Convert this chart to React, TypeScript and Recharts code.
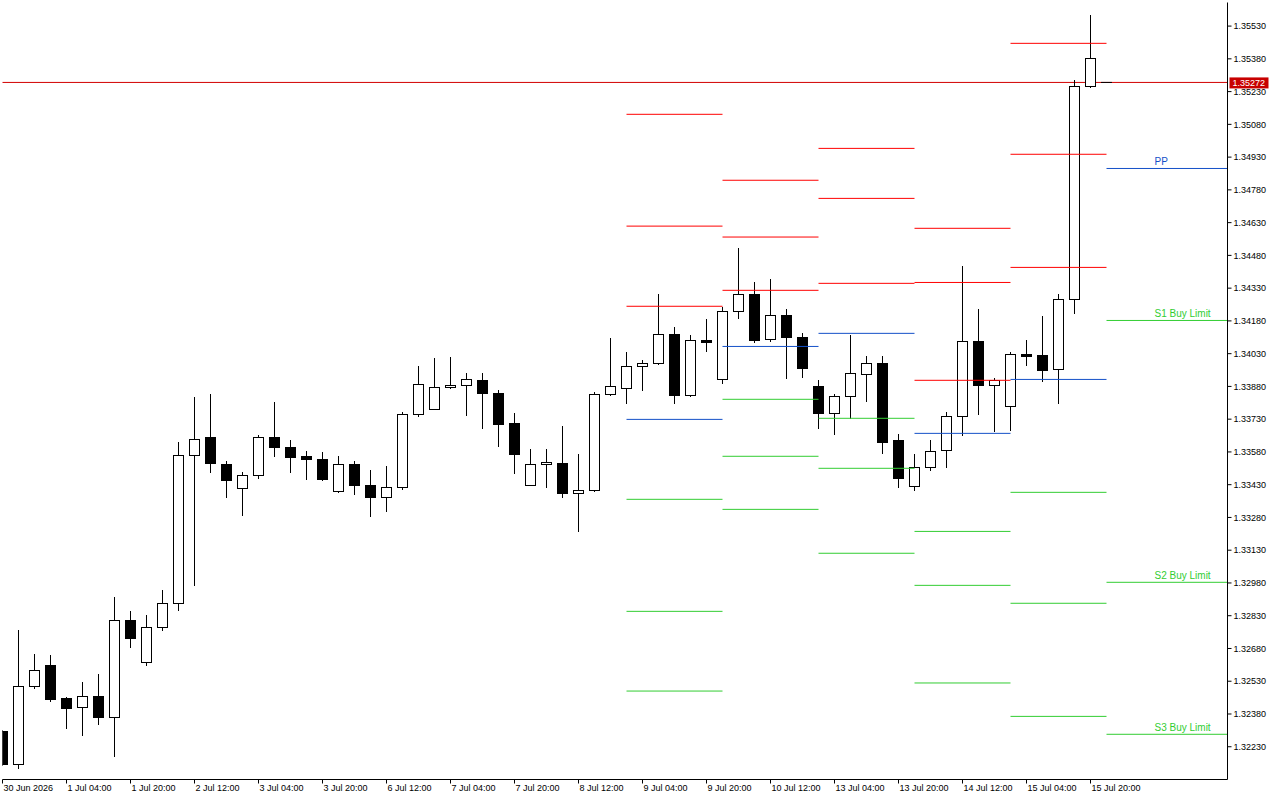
import { ComposedChart, Bar, XAxis, YAxis, ReferenceLine } from "recharts";

// H4 bars, 30 Jun .. 15 Jul 2026
const barOpen = [
  1.32302, 1.32149, 1.32505, 1.32604, 1.32453, 1.32409, 1.32462, 1.32363, 1.3281, 1.32615,
  1.32777, 1.32887, 1.33564, 1.33644, 1.33524, 1.33413, 1.33473, 1.33648, 1.33598, 1.33557,
  1.33547, 1.33399, 1.33523, 1.33427, 1.33372, 1.33418, 1.33752, 1.33775, 1.33876, 1.33885,
  1.33908, 1.33848, 1.33711, 1.33427, 1.33523, 1.33528, 1.3339, 1.33404, 1.33843, 1.33871,
  1.33973, 1.33984, 1.34118, 1.33839, 1.34091, 1.33912, 1.34224, 1.34301, 1.34095, 1.34205,
  1.34105, 1.3388, 1.33757, 1.33834, 1.33935, 1.33986, 1.33634, 1.33422, 1.33509, 1.33587,
  1.33743, 1.34086, 1.33883, 1.33789, 1.34027, 1.34022, 1.33958, 1.34279, 1.35254,
];
const barHigh = [
  1.32306, 1.32764, 1.32654, 1.3265, 1.32456, 1.32526, 1.32563, 1.32915, 1.32851, 1.32833,
  1.32947, 1.33625, 1.33827, 1.33845, 1.33534, 1.33488, 1.33657, 1.33808, 1.33634, 1.33584,
  1.33579, 1.33561, 1.33538, 1.33497, 1.33515, 1.33762, 1.33969, 1.3401, 1.34014, 1.33937,
  1.33937, 1.33863, 1.33757, 1.33593, 1.33589, 1.33698, 1.3357, 1.33854, 1.34101, 1.34037,
  1.33999, 1.34303, 1.34152, 1.34114, 1.34188, 1.34242, 1.34513, 1.34358, 1.3437, 1.3423,
  1.34124, 1.33909, 1.33845, 1.34115, 1.34019, 1.34019, 1.33662, 1.3357, 1.33634, 1.33762,
  1.34431, 1.3423, 1.33918, 1.34036, 1.34088, 1.34198, 1.343, 1.3528, 1.35577,
];
const barLow = [
  1.32146, 1.32129, 1.32496, 1.32435, 1.32312, 1.3228, 1.32331, 1.32184, 1.32683, 1.32601,
  1.32764, 1.32856, 1.32967, 1.33485, 1.3337, 1.33288, 1.33457, 1.33561, 1.33485, 1.33452,
  1.33448, 1.33396, 1.33384, 1.33283, 1.33306, 1.33407, 1.33741, 1.33772, 1.33872, 1.33746,
  1.33686, 1.33604, 1.3348, 1.33424, 1.33416, 1.3337, 1.33214, 1.33398, 1.3384, 1.338,
  1.3386, 1.33979, 1.338, 1.33836, 1.34039, 1.33892, 1.3419, 1.3408, 1.34084, 1.33915,
  1.3392, 1.33686, 1.33659, 1.33735, 1.3381, 1.33572, 1.33416, 1.33402, 1.33497, 1.33507,
  1.33656, 1.3375, 1.33672, 1.33676, 1.33975, 1.33901, 1.338, 1.34213, 1.35251,
];
const barClose = [
  1.32149, 1.32508, 1.32581, 1.32448, 1.32407, 1.32462, 1.32363, 1.3281, 1.32724, 1.32777,
  1.32887, 1.33564, 1.33638, 1.33526, 1.33448, 1.33473, 1.33647, 1.33599, 1.33553, 1.33544,
  1.33452, 1.33523, 1.33425, 1.3337, 1.33418, 1.33752, 1.33889, 1.33876, 1.33885, 1.33912,
  1.33848, 1.33704, 1.33567, 1.33523, 1.33532, 1.33388, 1.33404, 1.33843, 1.3388, 1.33972,
  1.33986, 1.34118, 1.33837, 1.34091, 1.3408, 1.34224, 1.34301, 1.34089, 1.34205, 1.34103,
  1.33961, 1.33757, 1.33834, 1.3394, 1.33986, 1.33622, 1.33459, 1.33509, 1.33583, 1.33743,
  1.34086, 1.33883, 1.33908, 1.34027, 1.34018, 1.33954, 1.34279, 1.35254, 1.35382,
];

// one time label every 4 bars
const timeLabels = [
  "30 Jun 2026", "1 Jul 04:00", "1 Jul 20:00", "2 Jul 12:00", "3 Jul 04:00", "3 Jul 20:00",
  "6 Jul 12:00", "7 Jul 04:00", "7 Jul 20:00", "8 Jul 12:00", "9 Jul 04:00", "9 Jul 20:00",
  "10 Jul 12:00", "13 Jul 04:00", "13 Jul 20:00", "14 Jul 12:00", "15 Jul 04:00", "15 Jul 20:00",
];

const priceTicks = [
  1.3223, 1.3238, 1.3253, 1.3268, 1.3283, 1.3298, 1.3313, 1.3328, 1.3343, 1.3358, 1.3373, 1.3388,
  1.3403, 1.3418, 1.3433, 1.3448, 1.3463, 1.3478, 1.3493, 1.3508, 1.3523, 1.3538, 1.3553,
];

// daily pivot levels: 9, 10, 13, 14, 15, 16 Jul
const dayFirstBar = [39, 45, 51, 57, 63, 69];
const pivotR3 = [1.35126, 1.34824, 1.3497, 1.34604, 1.35451, null];
const pivotR2 = [1.34614, 1.34564, 1.34741, 1.34356, 1.34943, null];
const pivotR1 = [1.34247, 1.3432, 1.34352, 1.33908, 1.34425, null];
const pivotPP = [1.33729, 1.34063, 1.34123, 1.33665, 1.33912, 1.34878];
const pivotS1 = [1.33363, 1.33821, 1.33734, 1.33216, 1.33395, 1.34182];
const pivotS2 = [1.3285, 1.3356, 1.33505, 1.32969, 1.32887, 1.32983];
const pivotS3 = [1.32485, 1.33317, 1.33116, 1.32522, 1.32369, 1.32287];

const lastPrice = 1.35272;

const RED = "#ff0000";
const BLUE = "#1450c8";
const GREEN = "#32cd32";
const X_MAX = 76.5625;
const Y_MIN = 1.3208;
const Y_MAX = 1.35638;
const BARS_PER_DAY = 6;

const candles = barOpen.map((o, i) => ({
  i,
  o,
  h: barHigh[i],
  l: barLow[i],
  c: barClose[i],
  range: [barLow[i], barHigh[i]],
}));

const levelRows = [
  { vals: pivotR3, color: RED, tag: "" },
  { vals: pivotR2, color: RED, tag: "" },
  { vals: pivotR1, color: RED, tag: "" },
  { vals: pivotPP, color: BLUE, tag: "PP" },
  { vals: pivotS1, color: GREEN, tag: "S1 Buy Limit" },
  { vals: pivotS2, color: GREEN, tag: "S2 Buy Limit" },
  { vals: pivotS3, color: GREEN, tag: "S3 Buy Limit" },
];

function Candle(props: any) {
  const { x, y, width, height, payload } = props;
  if (x == null || !payload) return null;
  const top = Math.min(y, y + height);
  const k = Math.abs(height) / (payload.h - payload.l);
  const py = (p: number) => top + (payload.h - p) * k;
  const cx = Math.floor(x + width / 2) + 0.5;
  const bull = payload.c >= payload.o;
  const bt = Math.floor(py(Math.max(payload.o, payload.c))) + 0.5;
  const bb = Math.floor(py(Math.min(payload.o, payload.c))) + 0.5;
  return (
    <g>
      <line x1={cx} x2={cx} y1={Math.floor(py(payload.h))} y2={Math.floor(py(payload.l)) + 1} stroke="#000" />
      <rect x={cx - 5} y={bt} width={10} height={Math.max(bb - bt, 0)} fill={bull ? "#fff" : "#000"} stroke="#000" />
    </g>
  );
}

function PriceTag(props: any) {
  const vb = props.viewBox;
  if (!vb) return null;
  const right = vb.x + vb.width;
  return (
    <g>
      <rect x={right + 2} y={vb.y - 5} width={39} height={11} fill="#c80000" />
      <text x={right + 5} y={vb.y + 3.5} fontSize={9} fill="#fff">
        {lastPrice.toFixed(5)}
      </text>
    </g>
  );
}

function TimeTick(props: any) {
  const label = timeLabels[Math.round(props.payload.value / 4)];
  return (
    <text x={props.x + 1} y={props.y + 5.5} fontSize={9} fill="#000">
      {label}
    </text>
  );
}

export default function App() {
  const last = dayFirstBar.length - 1;
  return (
    <div style={{ width: 1280, height: 800, background: "#fff" }}>
      <style>{"body{margin:0}"}</style>
      <ComposedChart
        width={1280}
        height={800}
        data={candles}
        margin={{ top: 2.5, right: 0, bottom: 0, left: 2.5 }}
        style={{ fontFamily: '"Liberation Sans", Arial, sans-serif' }}
      >
        <XAxis
          xAxisId="t"
          dataKey="i"
          type="number"
          domain={[0, X_MAX]}
          allowDataOverflow
          ticks={timeLabels.map((_, k) => k * 4)}
          interval={0}
          height={20.5}
          tickSize={4}
          tickMargin={2}
          axisLine={{ stroke: "#000" }}
          tickLine={{ stroke: "#000" }}
          tick={<TimeTick />}
        />
        <XAxis xAxisId="top" orientation="top" type="number" domain={[0, 1]} height={0} tick={false} tickLine={false} axisLine={{ stroke: "#000" }} />
        <YAxis yAxisId="left" orientation="left" type="number" domain={[0, 1]} width={0} tick={false} tickLine={false} axisLine={{ stroke: "#000" }} />
        <YAxis
          yAxisId="p"
          orientation="right"
          type="number"
          domain={[Y_MIN, Y_MAX]}
          allowDataOverflow
          ticks={priceTicks}
          interval={0}
          width={52.5}
          tickSize={4}
          tickMargin={2}
          axisLine={{ stroke: "#000" }}
          tickLine={{ stroke: "#000" }}
          tick={{ fill: "#000", fontSize: 9 }}
          tickFormatter={(v: number) => v.toFixed(5)}
        />
        <ReferenceLine xAxisId="t" yAxisId="p" y={lastPrice} stroke="#d20000" zIndex={250} label={<PriceTag />} />
        <Bar xAxisId="t" yAxisId="p" dataKey="range" barSize={10} shape={<Candle />} isAnimationActive={false} />
        <ReferenceLine
          xAxisId="t"
          yAxisId="p"
          segment={[{ x: 68.66, y: lastPrice }, { x: 69.34, y: lastPrice }]}
          stroke="#000"
        />
        {levelRows.flatMap((row, r) =>
          dayFirstBar.map((start, d) => {
            const v = row.vals[d];
            if (v == null) return null;
            const end = d === last ? X_MAX : start + BARS_PER_DAY;
            return (
              <ReferenceLine
                key={`${r}-${d}`}
                xAxisId="t"
                yAxisId="p"
                segment={[{ x: start, y: v }, { x: end, y: v }]}
                stroke={row.color}
                label={
                  d === last && row.tag
                    ? (p: any) =>
                        p.viewBox ? (
                          <text x={p.viewBox.x + 48} y={p.viewBox.y - 3} fontSize={10} fill={row.color}>
                            {row.tag}
                          </text>
                        ) : null
                    : undefined
                }
              />
            );
          })
        )}
      </ComposedChart>
    </div>
  );
}
